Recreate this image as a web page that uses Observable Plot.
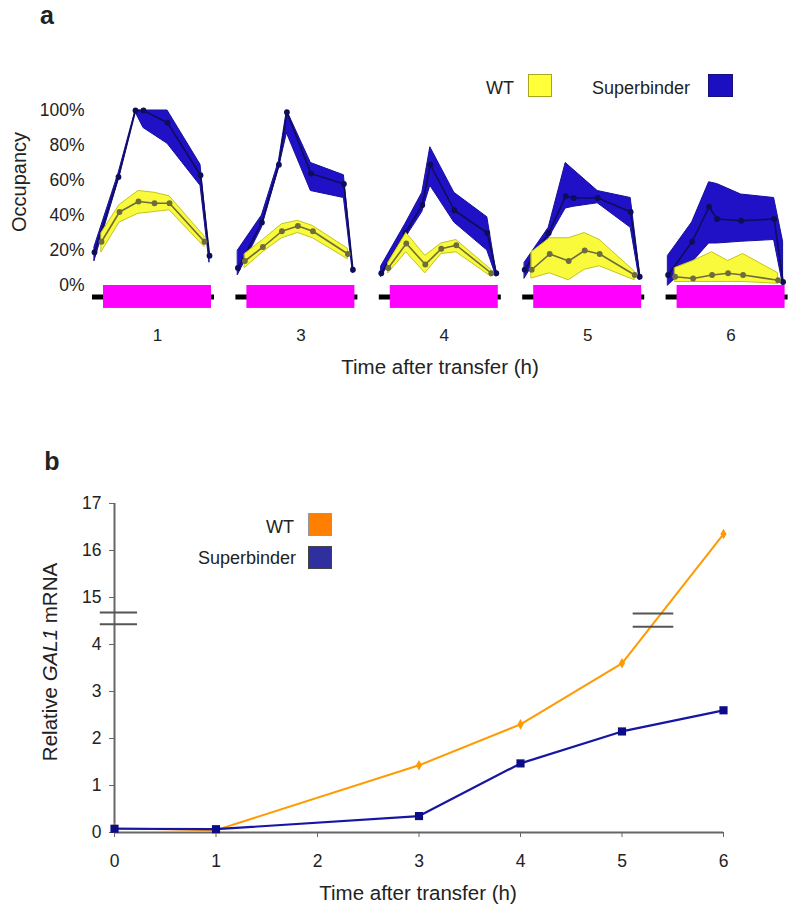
<!DOCTYPE html>
<html><head><meta charset="utf-8">
<script src="https://cdn.jsdelivr.net/npm/d3@7"></script>
<script src="https://cdn.jsdelivr.net/npm/@observablehq/plot@0.6"></script>
<style>
body{margin:0;background:#fff;font-family:"Liberation Sans",Arial,Helvetica,sans-serif;color:#222}
#root{position:relative;width:800px;height:914px;overflow:hidden;background:#fff}
.lab{position:absolute;white-space:nowrap;line-height:1}
.box{position:absolute;box-sizing:border-box}
svg{position:absolute;left:0;font-family:"Liberation Sans",Arial,Helvetica,sans-serif}
</style></head><body><div id="root"></div>
<script>
// ---------- Panel a: occupancy ----------
const times = ["1", "3", "4", "5", "6"];
const sbPos = [0, 24, 41, 49, 73, 106, 115];   // probe positions (Superbinder)
const wtPos = [7, 25, 44, 60, 75, 110];        // probe positions (WT)
const geneStart = 9, geneEnd = 117, locusStart = -2, locusEnd = 120;

const sbMean = [
  [19, 62, 100, 100, 93, 63, 17],
  [10, 36, 69, 99, 64, 58, 9],
  [7, 30, 46, 69, 43, 30, 7],
  [9, 30, 51, 50, 50, 42, 5],
  [6, 25, 45, 38, 37, 38, 2]
];
const sbLo = [
  [14, 60, 99, 90, 81, 57, 13],
  [6, 33, 67, 87, 54, 50, 7],
  [5, 27, 42, 57, 36, 20, 5],
  [4, 27, 44, 45, 47, 33, 3],
  [0, 13, 24, 24, 25, 26, 0]
];
const sbHi = [
  [22, 64, 100, 100, 100, 69, 18],
  [20, 40, 71, 100, 70, 63, 10],
  [11, 35, 53, 79, 53, 39, 8],
  [13, 33, 70, 66, 54, 50, 8],
  [17, 36, 59, 58, 52, 50, 25]
];
const wtMean = [
  [25, 42, 48, 47, 47, 25],
  [14, 22, 31, 34, 31, 18],
  [10, 24, 12, 21, 23, 7],
  [9, 18, 14, 20, 18, 6],
  [5, 4, 6, 7, 6, 3]
];
const wtLo = [
  [19, 36, 41, 42, 43, 22],
  [10, 19, 27, 30, 27, 15],
  [7, 19, 7, 18, 19, 5],
  [4, 7, 3, 9, 11, 3],
  [2, 2, 2, 2, 2, 1]
];
const wtHi = [
  [30, 46, 54, 53, 51, 28],
  [18, 26, 35, 37, 34, 21],
  [13, 30, 17, 24, 26, 9],
  [19, 27, 27, 30, 26, 8],
  [10, 14, 19, 14, 18, 7]
];
const occTicks = [0, 20, 40, 60, 80, 100];

// ---------- Panel b: GAL1 mRNA ----------
const hours = [0, 1, 3, 4, 5, 6];
const wtMRNA = [0.09, 0.05, 1.43, 2.3, 3.6, 16.35];
const sbMRNA = [0.08, 0.07, 0.35, 1.47, 2.15, 2.6];
const mrnaTicks = [0, 1, 2, 3, 4, 15, 16, 17];
const hourTicks = [0, 1, 2, 3, 4, 5, 6];
// broken axis: values above the break (4.5 .. 14.5) are shifted down by 10
const breakLow = 4.5, breakGap = 10;
const brk = v => (v <= breakLow ? v : v - breakGap);

// ---------- build tables ----------
const rowsFor = (pos, m, lo, hi) => times.flatMap((t, g) =>
  pos.map((p, i) => ({time: t, pos: p, mean: m[g][i], lo: lo[g][i], hi: hi[g][i]})));
const sbRows = rowsFor(sbPos, sbMean, sbLo, sbHi);
const wtRows = rowsFor(wtPos, wtMean, wtLo, wtHi);
const wtB = hours.map((h, i) => ({h, v: wtMRNA[i]}));
const sbB = hours.map((h, i) => ({h, v: sbMRNA[i]}));

const BLUE = "#2010c6", BLUE_EDGE = "#16109a", BLUE_LINE = "#0e0e58";
const YEL = "#fafa3c", YEL_EDGE = "#c4c41c", YEL_LINE = "#6c6c3c";

const root = document.getElementById("root");

const plotA = Plot.plot({
  width: 800, height: 390,
  marginLeft: 92, marginRight: 12.4, marginTop: 100, marginBottom: 70,
  style: {background: "transparent", fontFamily: "Liberation Sans, Arial, sans-serif"},
  fx: {domain: times, paddingInner: 0.1492, paddingOuter: 0, round: false, label: null},
  x: {domain: [locusStart, locusEnd], axis: null},
  y: {domain: [0, 100], range: [285, 110], axis: null},
  marks: [
    Plot.ruleY([-6.5], {x1: locusStart, x2: locusEnd, stroke: "#000", strokeWidth: 5}),
    Plot.rect([0], {x1: geneStart, x2: geneEnd, y1: -13.1, y2: 0, fill: "#ff00ff"}),
    Plot.areaY(sbRows, {fx: "time", x: "pos", y1: "lo", y2: "hi", fill: BLUE, stroke: BLUE_EDGE, strokeWidth: 1}),
    Plot.lineY(sbRows, {fx: "time", x: "pos", y: "mean", stroke: BLUE_LINE, strokeWidth: 1.6}),
    Plot.dot(sbRows, {fx: "time", x: "pos", y: "mean", r: 2.9, fill: BLUE_LINE}),
    Plot.areaY(wtRows, {fx: "time", x: "pos", y1: "lo", y2: "hi", fill: YEL, stroke: YEL_EDGE, strokeWidth: 1}),
    Plot.lineY(wtRows, {fx: "time", x: "pos", y: "mean", stroke: YEL_LINE, strokeWidth: 1.6}),
    Plot.dot(wtRows, {fx: "time", x: "pos", y: "mean", r: 2.9, fill: YEL_LINE}),
    Plot.axisY({ticks: occTicks, tickFormat: d => d + "%", tickSize: 0, tickPadding: 8, fontSize: 17.5, fill: "#222", label: null}),
    Plot.axisFx({anchor: "bottom", tickSize: 0, tickPadding: 8, dx: 4, fontSize: 17, fill: "#222", label: null})
  ]
});
plotA.style.top = "0px";
root.appendChild(plotA);

const plotB = Plot.plot({
  width: 800, height: 474,
  marginLeft: 114, marginRight: 77, marginTop: 63, marginBottom: 82,
  style: {background: "transparent", fontFamily: "Liberation Sans, Arial, sans-serif"},
  x: {domain: [0, 6], axis: null},
  y: {domain: [0, brk(17)], axis: null},
  marks: [
    Plot.ruleX([0], {stroke: "#666", strokeWidth: 2}),
    Plot.ruleY([0], {stroke: "#666", strokeWidth: 2}),
    Plot.axisY({ticks: mrnaTicks.map(brk), tickFormat: d => (d <= breakLow ? d : d + breakGap), tickSize: 5, tickPadding: 8, fontSize: 17.5, stroke: "#666", fill: "#222", label: null}),
    Plot.axisX({ticks: hourTicks, tickFormat: d => d, tickSize: 5, tickPadding: 17, fontSize: 17.5, stroke: "#666", fill: "#222", label: null}),
    Plot.ruleY([4.43, 4.68], {x1: -0.14, x2: 0.227, stroke: "#555", strokeWidth: 2}),
    Plot.line(wtB, {x: "h", y: d => brk(d.v), stroke: "#ff9a00", strokeWidth: 2}),
    Plot.dot(wtB, {x: "h", y: d => brk(d.v), symbol: "diamond", r: 3.2, fill: "#ff9a00"}),
    Plot.line(sbB, {x: "h", y: d => brk(d.v), stroke: "#1616a2", strokeWidth: 2.2}),
    Plot.dot(sbB, {x: "h", y: d => brk(d.v), symbol: "square", r: 4.6, fill: "#0c0c88"}),
    Plot.ruleY([4.38, 4.66], {x1: 5.11, x2: 5.51, stroke: "#555", strokeWidth: 2})
  ]
});
plotB.style.top = "440px";
root.appendChild(plotB);

// ---------- html text & legends ----------
function label(text, x, y, {size = 17, anchor = "middle", bold = false, rotate = false, html = false} = {}) {
  const d = document.createElement("div");
  d.className = "lab";
  if (html) d.innerHTML = text; else d.textContent = text;
  d.style.left = x + "px";
  d.style.top = y + "px";
  d.style.fontSize = size + "px";
  if (bold) d.style.fontWeight = "bold";
  const tx = anchor === "middle" ? "-50%" : anchor === "end" ? "-100%" : "0";
  d.style.transform = `translate(${tx},-50%)` + (rotate ? " rotate(-90deg)" : "");
  root.appendChild(d);
}
function box(x, y, w, h, fill, border) {
  const d = document.createElement("div");
  d.className = "box";
  Object.assign(d.style, {left: x + "px", top: y + "px", width: w + "px", height: h + "px",
    background: fill, border: `1.5px solid ${border}`});
  root.appendChild(d);
}
label("a", 47, 15, {size: 25, bold: true});
label("b", 52, 461, {size: 25, bold: true});
label("WT", 514, 88, {size: 18, anchor: "end"});
box(528, 74, 24, 23, "#ffff3a", "#a8a820");
label("Superbinder", 592, 88, {size: 18, anchor: "start"});
box(708, 74, 25, 23, "#1c0fc2", "#15107a");
label("Occupancy", 19, 182, {size: 20, rotate: true});
label("Time after transfer (h)", 440, 367, {size: 20.5});

label("WT", 294, 527, {size: 18, anchor: "end"});
box(308, 513, 24, 23, "#ff8000", "#999");
label("Superbinder", 296, 558, {size: 18, anchor: "end"});
box(308, 546, 24, 23, "#2f2f9f", "#444");
label("Relative <i>GAL1</i> mRNA", 50, 662, {size: 20.5, rotate: true, html: true});
label("Time after transfer (h)", 418, 893, {size: 20.5});
</script>
</body></html>
